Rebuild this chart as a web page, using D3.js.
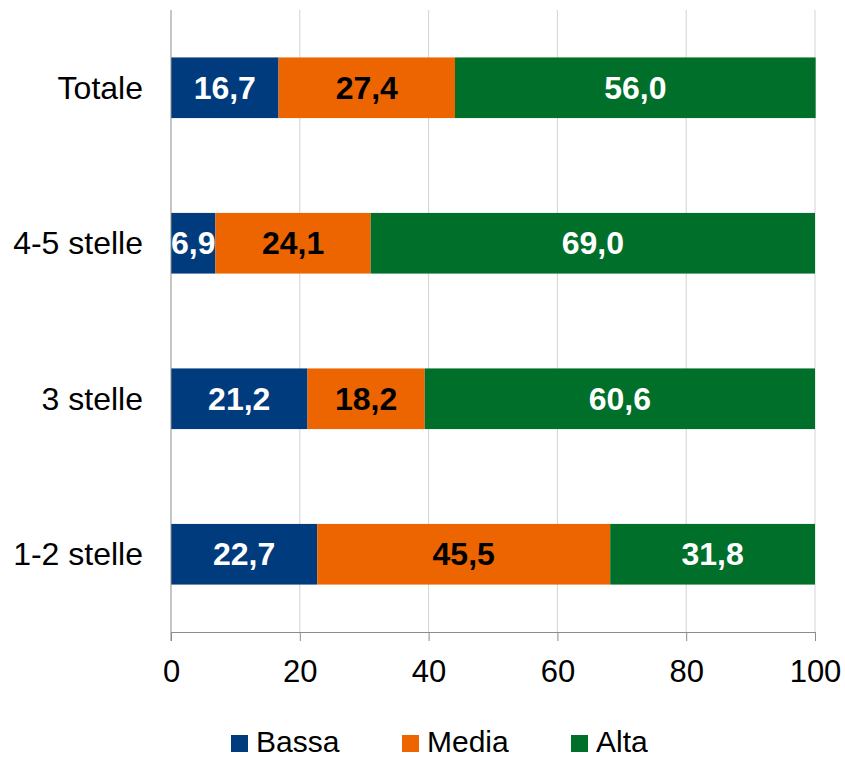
<!DOCTYPE html>
<html>
<head>
<meta charset="utf-8">
<script src="https://cdn.jsdelivr.net/npm/d3@7"></script>
<style>
  body { margin: 0; background: #fff; }
  svg { display: block; font-family: "Liberation Sans", Arial, sans-serif; }
</style>
</head>
<body>
<div id="chart"></div>
<script>
// Data.
const categories = ["Totale", "4-5 stelle", "3 stelle", "1-2 stelle"];
const seriesNames = ["Bassa", "Media", "Alta"];
const bassa = [16.7, 6.9, 21.2, 22.7];
const media = [27.4, 24.1, 18.2, 45.5];
const alta = [56.0, 69.0, 60.6, 31.8];
const xTicks = [0, 20, 40, 60, 80, 100];

const colors = ["#003c7d", "#ec6500", "#006f2a"];
const labelColors = ["#fff", "#000", "#fff"];

const width = 845;
const height = 757;
const marginTop = 10;
const marginRight = 30;
const marginBottom = 125;
const marginLeft = 171;

const svg = d3.select("#chart")
  .append("svg")
    .attr("width", width)
    .attr("height", height)
    .attr("viewBox", [0, 0, width, height]);

const x = d3.scaleLinear()
    .domain([0, 100])
    .range([marginLeft, width - marginRight]);

const y = d3.scaleBand()
    .domain(categories)
    .range([marginTop, height - marginBottom])
    .paddingInner(0.61)
    .paddingOuter(0.305);

// Build rows for the stack.
const rows = categories.map((c, i) => ({
  cat: c, Bassa: bassa[i], Media: media[i], Alta: alta[i]
}));
const stacked = d3.stack().keys(seriesNames)(rows);

// Gridlines.
svg.append("g")
  .selectAll("line")
  .data(xTicks.slice(1))
  .join("line")
    .attr("x1", d => x(d))
    .attr("x2", d => x(d))
    .attr("y1", marginTop)
    .attr("y2", height - marginBottom)
    .attr("stroke", "#d3d3d3")
    .attr("stroke-width", 1);

// Bars.
const layer = svg.append("g")
  .selectAll("g")
  .data(stacked)
  .join("g")
    .attr("fill", (d, i) => colors[i]);

layer.selectAll("rect")
  .data(d => d)
  .join("rect")
    .attr("x", d => x(d[0]))
    .attr("y", d => y(d.data.cat))
    .attr("width", d => x(d[1]) - x(d[0]))
    .attr("height", y.bandwidth());

// X axis.
const xAxis = svg.append("g")
    .attr("transform", `translate(0,${height - marginBottom})`)
    .call(d3.axisBottom(x).tickValues(xTicks).tickSize(9).tickPadding(19).tickSizeOuter(0));
xAxis.select(".domain").attr("stroke", "#8c8c8c");
xAxis.selectAll(".tick line").attr("stroke", "#8c8c8c");
xAxis.selectAll("text")
    .attr("font-size", 31)
    .attr("fill", "#000")
    .attr("font-family", "Liberation Sans, Arial, sans-serif");

// Y axis line.
svg.append("line")
    .attr("x1", marginLeft)
    .attr("x2", marginLeft)
    .attr("y1", marginTop)
    .attr("y2", height - marginBottom + 9)
    .attr("stroke", "#8c8c8c");

// Category labels.
svg.append("g")
  .selectAll("text")
  .data(categories)
  .join("text")
    .attr("x", marginLeft - 28)
    .attr("y", d => y(d) + y.bandwidth() / 2)
    .attr("dy", "0.35em")
    .attr("text-anchor", "end")
    .attr("font-size", 32)
    .text(d => d);

// Value labels.
const fmt = d3.format(".1f");
layer.each(function(series, i) {
  d3.select(this).selectAll("text")
    .data(series)
    .join("text")
      .attr("x", d => (x(d[0]) + x(d[1])) / 2)
      .attr("y", d => y(d.data.cat) + y.bandwidth() / 2)
      .attr("dy", "0.35em")
      .attr("text-anchor", "middle")
      .attr("font-size", 32)
      .attr("font-weight", "bold")
      .attr("fill", labelColors[i])
      .text(d => fmt(d[1] - d[0]).replace(".", ","));
});

// Legend.
const legendX = [231, 402, 571];
const legend = svg.append("g")
  .selectAll("g")
  .data(seriesNames)
  .join("g")
    .attr("transform", (d, i) => `translate(${legendX[i]},735)`);

legend.append("rect")
    .attr("width", 17)
    .attr("height", 17)
    .attr("fill", (d, i) => colors[i]);

legend.append("text")
    .attr("x", 25)
    .attr("y", 17)
    .attr("font-size", 30)
    .text(d => d);
</script>
</body>
</html>
